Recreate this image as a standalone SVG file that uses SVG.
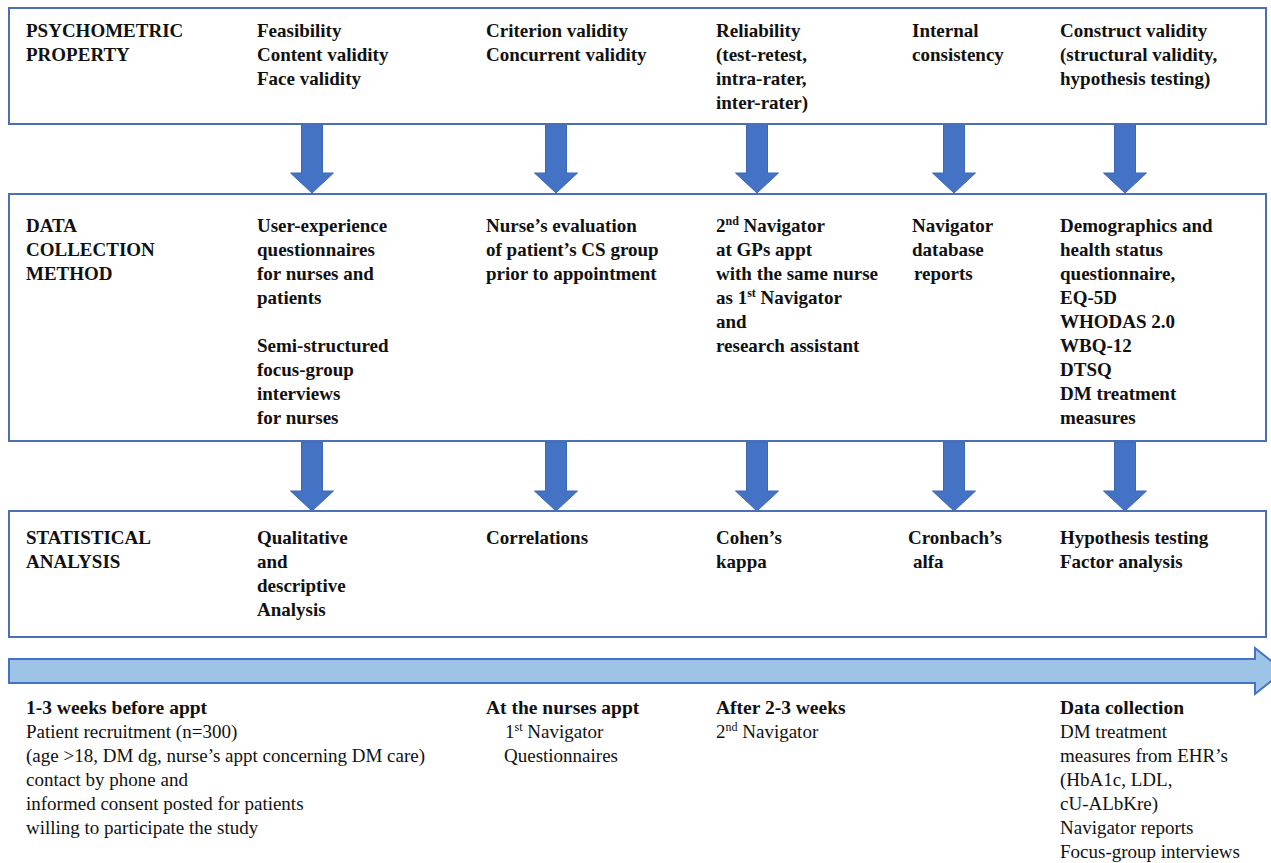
<svg xmlns="http://www.w3.org/2000/svg" width="1271" height="863" viewBox="0 0 1271 863" font-family="Liberation Serif, serif">
<defs>
<style>
.box{fill:#fff;stroke:#4a6fb5;stroke-width:2}
.arr{fill:#4472c4;stroke:#3d67b3;stroke-width:1}
.tl{fill:#9dc3e6;stroke:#4472c4;stroke-width:2}
text{font-family:'Liberation Serif',serif;fill:#111;font-size:19px}
.b{font-weight:bold}
.r{font-size:19px}
.h{font-weight:bold;font-size:19.5px}
</style>
<path id="dn" d="M-10.5,0 H10.5 V49 H21.5 L0,69 L-21.5,49 H-10.5 Z"/>
</defs>
<rect width="1271" height="863" fill="#fff"/>

<g id="connectors">
<use href="#dn" class="arr" x="312" y="124"/>
<use href="#dn" class="arr" x="556" y="124"/>
<use href="#dn" class="arr" x="757" y="124"/>
<use href="#dn" class="arr" x="954" y="124"/>
<use href="#dn" class="arr" x="1125" y="124"/>
<use href="#dn" class="arr" x="312" y="442"/>
<use href="#dn" class="arr" x="556" y="442"/>
<use href="#dn" class="arr" x="757" y="442"/>
<use href="#dn" class="arr" x="954" y="442"/>
<use href="#dn" class="arr" x="1125" y="442"/>
</g>

<g id="psychometric">
<rect class="box" x="9" y="8" width="1257" height="116"/>
<text class="b" x="26" y="37">PSYCHOMETRIC</text>
<text class="b" x="26" y="61">PROPERTY</text>
<text class="b" x="257" y="37">Feasibility</text>
<text class="b" x="257" y="61">Content validity</text>
<text class="b" x="257" y="85">Face validity</text>
<text class="b" x="486" y="37">Criterion validity</text>
<text class="b" x="486" y="61">Concurrent validity</text>
<text class="b" x="716" y="37">Reliability</text>
<text class="b" x="716" y="61">(test-retest,</text>
<text class="b" x="716" y="85">intra-rater,</text>
<text class="b" x="716" y="109">inter-rater)</text>
<text class="b" x="912" y="37">Internal</text>
<text class="b" x="912" y="61">consistency</text>
<text class="b" x="1060" y="37">Construct validity</text>
<text class="b" x="1060" y="61">(structural validity,</text>
<text class="b" x="1060" y="85">hypothesis testing)</text>
</g>

<g id="datacollection">
<rect class="box" x="9" y="194" width="1257" height="247"/>
<text class="b" x="26" y="232">DATA</text>
<text class="b" x="26" y="256">COLLECTION</text>
<text class="b" x="26" y="280">METHOD</text>
<text class="b" x="257" y="232">User-experience</text>
<text class="b" x="257" y="256">questionnaires</text>
<text class="b" x="257" y="280">for nurses and</text>
<text class="b" x="257" y="304">patients</text>
<text class="b" x="257" y="352">Semi-structured</text>
<text class="b" x="257" y="376">focus-group</text>
<text class="b" x="257" y="400">interviews</text>
<text class="b" x="257" y="424">for nurses</text>
<text class="b" x="486" y="232">Nurse’s evaluation</text>
<text class="b" x="486" y="256">of patient’s CS group</text>
<text class="b" x="486" y="280">prior to appointment</text>
<text class="b" x="716" y="232">2<tspan font-size="12" dy="-7">nd</tspan><tspan dy="7"> Navigator</tspan></text>
<text class="b" x="716" y="256">at GPs appt</text>
<text class="b" x="716" y="280">with the same nurse</text>
<text class="b" x="716" y="304">as 1<tspan font-size="12" dy="-7">st</tspan><tspan dy="7"> Navigator</tspan></text>
<text class="b" x="716" y="328">and</text>
<text class="b" x="716" y="352">research assistant</text>
<text class="b" x="912" y="232">Navigator</text>
<text class="b" x="912" y="256">database</text>
<text class="b" x="914" y="280">reports</text>
<text class="b" x="1060" y="232">Demographics and</text>
<text class="b" x="1060" y="256">health status</text>
<text class="b" x="1060" y="280">questionnaire,</text>
<text class="b" x="1060" y="304">EQ-5D</text>
<text class="b" x="1060" y="328">WHODAS 2.0</text>
<text class="b" x="1060" y="352">WBQ-12</text>
<text class="b" x="1060" y="376">DTSQ</text>
<text class="b" x="1060" y="400">DM treatment</text>
<text class="b" x="1060" y="424">measures</text>
</g>

<g id="statistical">
<rect class="box" x="9" y="511" width="1257" height="126"/>
<text class="b" x="26" y="544">STATISTICAL</text>
<text class="b" x="26" y="568">ANALYSIS</text>
<text class="b" x="257" y="544">Qualitative</text>
<text class="b" x="257" y="568">and</text>
<text class="b" x="257" y="592">descriptive</text>
<text class="b" x="257" y="616">Analysis</text>
<text class="b" x="486" y="544">Correlations</text>
<text class="b" x="716" y="544">Cohen’s</text>
<text class="b" x="716" y="568">kappa</text>
<text class="b" x="908" y="544">Cronbach’s</text>
<text class="b" x="913" y="568">alfa</text>
<text class="b" x="1060" y="544">Hypothesis testing</text>
<text class="b" x="1060" y="568">Factor analysis</text>
</g>

<g id="timeline">
<path class="tl" d="M9,659 H1255 V648 L1284,671 L1255,694 V683 H9 Z"/>
</g>

<g id="t1">
<text class="h" x="26" y="714">1-3 weeks before appt</text>
<text class="r" x="26" y="738">Patient recruitment (n=300)</text>
<text class="r" x="26" y="762">(age &gt;18, DM dg, nurse’s appt concerning DM care)</text>
<text class="r" x="26" y="786">contact by phone and</text>
<text class="r" x="26" y="810">informed consent posted for patients</text>
<text class="r" x="26" y="834">willing to participate the study</text>
</g>
<g id="t2">
<text class="h" x="486" y="714">At the nurses appt</text>
<text class="r" x="505" y="738">1<tspan font-size="12" dy="-7">st</tspan><tspan dy="7"> Navigator</tspan></text>
<text class="r" x="504" y="762">Questionnaires</text>
</g>
<g id="t3">
<text class="h" x="716" y="714">After 2-3 weeks</text>
<text class="r" x="716" y="738">2<tspan font-size="12" dy="-7">nd</tspan><tspan dy="7"> Navigator</tspan></text>
</g>
<g id="t4">
<text class="h" x="1060" y="714">Data collection</text>
<text class="r" x="1060" y="738">DM treatment</text>
<text class="r" x="1060" y="762">measures from EHR’s</text>
<text class="r" x="1060" y="786">(HbA1c, LDL,</text>
<text class="r" x="1060" y="810">cU-ALbKre)</text>
<text class="r" x="1060" y="834">Navigator reports</text>
<text class="r" x="1060" y="858">Focus-group interviews</text>
</g>
</svg>
